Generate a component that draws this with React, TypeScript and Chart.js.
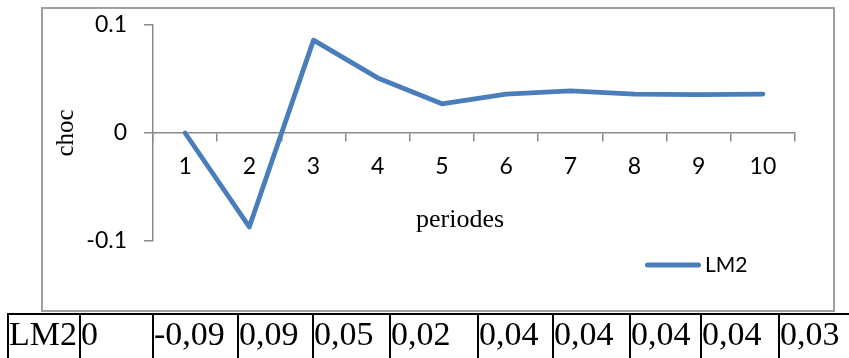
import React, { useEffect, useRef } from 'react';
import { Chart, registerables } from 'chart.js';

Chart.register(...registerables);

// ---- data ----
const periods = ['1', '2', '3', '4', '5', '6', '7', '8', '9', '10'];
const lm2Values = [0, -0.087, 0.086, 0.051, 0.027, 0.036, 0.039, 0.036, 0.0355, 0.036];
const yTickValues = [-0.1, 0, 0.1];
const seriesName = 'LM2';
const tableValues = ['0', '-0,09', '0,09', '0,05', '0,02', '0,04', '0,04', '0,04', '0,04', '0,03'];
const xTitle = 'periodes';
const yTitle = 'choc';

// ---- layout (not data) ----
const cellEdges = [8, 80, 153, 238, 313, 390, 478, 553, 630, 701, 779, 870];
const LINE_COLOR = '#4a7ebb';
const AXIS_COLOR = '#8a8a8a';
const SERIF = '"Liberation Serif", "Times New Roman", serif';
const SANS = 'Lato, "Noto Sans", sans-serif';

const annotatePlugin = {
  id: 'annotate',
  afterDraw(chart: any) {
    const ctx = chart.ctx as CanvasRenderingContext2D;
    ctx.save();
    ctx.fillStyle = '#000';
    ctx.textAlign = 'center';
    ctx.textBaseline = 'alphabetic';
    ctx.font = `26px ${SERIF}`;
    ctx.fillText(xTitle, 460, 227);
    ctx.translate(73, 133);
    ctx.rotate(-Math.PI / 2);
    ctx.font = `25px ${SERIF}`;
    ctx.fillText(yTitle, 0, 0);
    ctx.restore();

    const ds = chart.data.datasets[0];
    ctx.save();
    ctx.strokeStyle = ds.borderColor;
    ctx.lineWidth = 5;
    ctx.lineCap = 'round';
    ctx.beginPath();
    ctx.moveTo(647.5, 265);
    ctx.lineTo(698.5, 265);
    ctx.stroke();
    ctx.font = `21px ${SANS}`;
    ctx.fillStyle = '#000';
    ctx.textAlign = 'left';
    ctx.textBaseline = 'middle';
    ctx.fillText(ds.label, 705, 265);
    ctx.restore();
  },
};

export default function App() {
  const canvasRef = useRef<HTMLCanvasElement | null>(null);

  useEffect(() => {
    const canvas = canvasRef.current;
    if (!canvas) return;
    const chart = new Chart(canvas, {
      type: 'line',
      data: {
        labels: periods,
        datasets: [
          {
            label: seriesName,
            data: lm2Values,
            borderColor: LINE_COLOR,
            backgroundColor: LINE_COLOR,
            borderWidth: 4.8,
            pointRadius: 0,
            pointHoverRadius: 0,
            tension: 0,
            borderJoinStyle: 'round',
            borderCapStyle: 'round',
            fill: false,
          },
        ],
      },
      options: {
        responsive: false,
        animation: false,
        events: [],
        layout: { padding: { left: 0, top: 25, right: 54, bottom: 117 } },
        plugins: {
          legend: { display: false },
          tooltip: { enabled: false },
          title: { display: false },
        },
        scales: {
          x: {
            type: 'category',
            position: { y: 0 },
            offset: true,
            afterFit: (scale: any) => {
              scale.paddingLeft = 0;
              scale.paddingRight = 0;
              scale.paddingTop = 0;
              scale.paddingBottom = 0;
            },
            grid: {
              offset: true,
              drawOnChartArea: false,
              drawTicks: true,
              tickLength: 8,
              color: AXIS_COLOR,
              lineWidth: 1.5,
            },
            border: { display: true, color: AXIS_COLOR, width: 1.5 },
            ticks: {
              color: '#000',
              padding: 12,
              maxRotation: 0,
              autoSkip: false,
              font: { family: SANS, size: 23 },
            },
          },
          y: {
            type: 'linear',
            position: 'left',
            min: -0.1,
            max: 0.1,
            afterFit: (scale: any) => {
              scale.width = 153;
              scale.paddingTop = 0;
              scale.paddingBottom = 0;
            },
            afterBuildTicks: (scale: any) => {
              scale.ticks = yTickValues.map((v) => ({ value: v }));
            },
            grid: {
              drawOnChartArea: false,
              drawTicks: true,
              tickLength: 9,
              color: AXIS_COLOR,
              lineWidth: 1.5,
            },
            border: { display: true, color: AXIS_COLOR, width: 1.5 },
            ticks: {
              color: '#000',
              padding: 17,
              font: { family: SANS, size: 23 },
              callback: (v: any) => String(Math.round(Number(v) * 10) / 10),
            },
          },
        },
      },
      plugins: [annotatePlugin],
    });
    return () => chart.destroy();
  }, []);

  const cells = [seriesName, ...tableValues];

  return (
    <div style={{ position: 'absolute', left: 0, top: 0, width: 849, height: 358, overflow: 'hidden', background: '#fff' }}>
      <div
        style={{
          position: 'absolute',
          left: 41,
          top: 7,
          width: 794,
          height: 305,
          boxSizing: 'border-box',
          border: '2px solid #a0a0a0',
          background: '#fff',
        }}
      />
      <canvas
        ref={canvasRef}
        width={849}
        height={358}
        style={{ position: 'absolute', left: 0, top: 0, width: 849, height: 358 }}
      />
      <div
        style={{
          position: 'absolute',
          left: 7,
          top: 313,
          width: 842,
          height: 2,
          background: '#000',
        }}
      />
      {cells.map((text, i) => (
        <div
          key={i}
          style={{
            position: 'absolute',
            left: cellEdges[i] - 1,
            top: 315,
            width: cellEdges[i + 1] - cellEdges[i],
            height: 50,
            boxSizing: 'border-box',
            borderLeft: '2px solid #000',
            paddingLeft: 0,
            paddingTop: 0,
            fontFamily: SERIF,
            fontSize: 34,
            color: '#000',
            whiteSpace: 'nowrap',
          }}
        >
          {text}
        </div>
      ))}
    </div>
  );
}
